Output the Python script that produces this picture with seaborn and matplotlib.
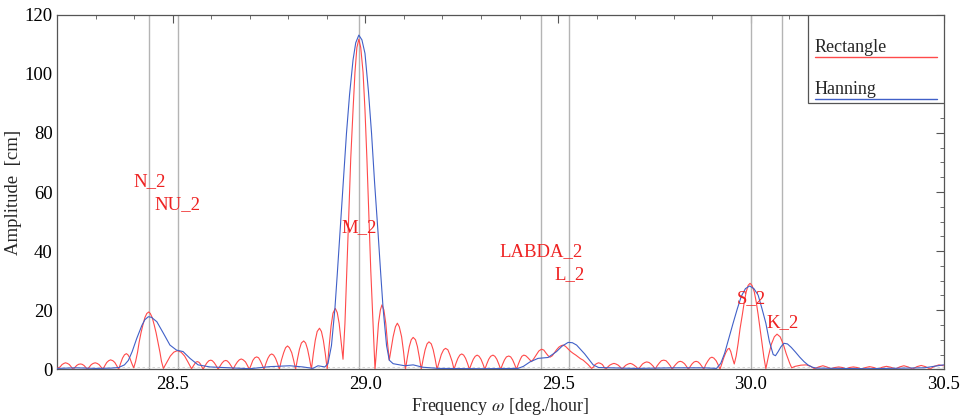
import numpy as np
import pandas as pd
import matplotlib.pyplot as plt
import seaborn as sns
from matplotlib.ticker import MultipleLocator, FormatStrFormatter

plt.switch_backend('Agg')

# tidal constituents (deg./hour) and the height of their labels
const_names = ['N_2', 'NU_2', 'M_2', 'LABDA_2', 'L_2', 'S_2', 'K_2']
const_freq = [28.4397, 28.5126, 28.9841, 29.4556, 29.5285, 30.0000, 30.0821]
label_y = [63.5, 55.7, 47.8, 39.8, 32.0, 23.8, 15.8]

rect_freq = [
    28.200, 28.208, 28.213, 28.218, 28.222, 28.227, 28.232, 28.237, 28.242,
    28.247, 28.251, 28.256, 28.261, 28.265, 28.270, 28.274, 28.279,
    28.284, 28.289, 28.294, 28.299, 28.304, 28.309, 28.314, 28.319,
    28.324, 28.329, 28.334, 28.339, 28.345, 28.350, 28.355, 28.360,
    28.365, 28.370, 28.375, 28.380, 28.384, 28.389, 28.394, 28.399,
    28.404, 28.409, 28.413, 28.418, 28.423, 28.428, 28.433, 28.438,
    28.442, 28.447, 28.452, 28.457, 28.462, 28.467, 28.471, 28.476,
    28.485, 28.494, 28.503, 28.512, 28.522, 28.531, 28.540, 28.549,
    28.553, 28.557, 28.560, 28.564, 28.568, 28.572, 28.575, 28.579,
    28.584, 28.589, 28.594, 28.599, 28.603, 28.608, 28.613, 28.618,
    28.623, 28.628, 28.633, 28.638, 28.642, 28.647, 28.652, 28.657,
    28.662, 28.668, 28.673, 28.678, 28.683, 28.689, 28.694, 28.699,
    28.704, 28.708, 28.713, 28.718, 28.723, 28.727, 28.732, 28.737,
    28.742, 28.747, 28.752, 28.757, 28.762, 28.767, 28.772, 28.777,
    28.782, 28.788, 28.793, 28.798, 28.803, 28.809, 28.814, 28.819,
    28.824, 28.829, 28.834, 28.840, 28.845, 28.850, 28.855, 28.860,
    28.865, 28.870, 28.875, 28.881, 28.886, 28.891, 28.896, 28.901,
    28.906, 28.911, 28.916, 28.922, 28.927, 28.932, 28.937, 28.942,
    28.947, 28.952, 28.957, 28.962, 28.968, 28.973, 28.978, 28.983,
    28.988, 28.994, 28.999, 29.004, 29.009, 29.014, 29.020, 29.025,
    29.030, 29.034, 29.039, 29.043, 29.048, 29.053, 29.057, 29.062,
    29.067, 29.072, 29.078, 29.083, 29.088, 29.094, 29.099, 29.104,
    29.109, 29.114, 29.119, 29.124, 29.130, 29.135, 29.140, 29.145,
    29.150, 29.155, 29.160, 29.165, 29.171, 29.176, 29.181, 29.186,
    29.192, 29.197, 29.203, 29.208, 29.214, 29.219, 29.225, 29.230,
    29.235, 29.240, 29.245, 29.250, 29.255, 29.260, 29.265, 29.270,
    29.275, 29.280, 29.285, 29.290, 29.295, 29.300, 29.305, 29.310,
    29.315, 29.320, 29.325, 29.331, 29.336, 29.341, 29.346, 29.351,
    29.356, 29.361, 29.366, 29.372, 29.377, 29.382, 29.387, 29.392,
    29.397, 29.402, 29.406, 29.411, 29.416, 29.421, 29.426, 29.431,
    29.437, 29.444, 29.450, 29.457, 29.463, 29.468, 29.474, 29.479,
    29.485, 29.490, 29.496, 29.502, 29.508, 29.513, 29.519, 29.525,
    29.532, 29.539, 29.546, 29.552, 29.558, 29.565, 29.571, 29.577, 29.582, 29.587,
    29.592, 29.596, 29.601, 29.605, 29.610, 29.615, 29.619, 29.624,
    29.629, 29.634, 29.640, 29.645, 29.650, 29.656, 29.661, 29.666,
    29.671, 29.676, 29.682, 29.687, 29.692, 29.697, 29.703, 29.708,
    29.714, 29.719, 29.725, 29.730, 29.736, 29.741, 29.747, 29.752,
    29.757, 29.763, 29.768, 29.774, 29.780, 29.785, 29.791, 29.796,
    29.801, 29.807, 29.812, 29.817, 29.822, 29.828, 29.833, 29.838,
    29.843, 29.848, 29.853, 29.858, 29.863, 29.868, 29.873, 29.878,
    29.883, 29.889, 29.894, 29.899, 29.904, 29.910, 29.915, 29.920,
    29.925, 29.930, 29.935, 29.940, 29.944, 29.948, 29.952, 29.957,
    29.962, 29.967, 29.972, 29.978, 29.983, 29.988, 29.993, 29.998,
    30.003, 30.009, 30.014, 30.019, 30.024, 30.029, 30.034, 30.039,
    30.046, 30.053, 30.061, 30.068, 30.076, 30.084, 30.092, 30.101, 30.106,
    30.115, 30.130, 30.144, 30.155, 30.165, 30.176, 30.187, 30.197, 30.208,
    30.218, 30.228, 30.238, 30.247, 30.256, 30.266, 30.276, 30.287,
    30.298, 30.308, 30.319, 30.330, 30.341, 30.352, 30.363, 30.375,
    30.386, 30.397, 30.408, 30.420, 30.431, 30.442, 30.453, 30.465,
    30.476, 30.488, 30.500]
rect_amp = [
    0.3, 0.8, 1.6, 2.0, 2.2, 2.0, 1.6, 0.8, 0.0,
    0.7, 1.3, 1.7, 1.8, 1.7, 1.3, 0.7, 0.0,
    0.8, 1.6, 2.0, 2.2, 2.0, 1.6, 0.8, 0.0,
    1.2, 2.3, 2.9, 3.2, 2.9, 2.3, 1.2, 0.0,
    2.0, 3.8, 4.9, 5.3, 4.9, 3.8, 2.0, 0.5,
    2.7, 5.8, 9.1, 12.4, 15.1, 17.5, 18.9, 19.4,
    18.9, 17.5, 15.1, 12.4, 9.1, 5.8, 2.7, 0.3,
    2.4, 4.5, 5.8, 6.3, 5.8, 4.5, 2.4, 0.2,
    1.0, 1.8, 2.4, 2.6, 2.4, 1.8, 1.0, 0.0,
    1.2, 2.2, 2.9, 3.1, 2.9, 2.2, 1.2, 0.0,
    1.1, 2.1, 2.8, 3.0, 2.8, 2.1, 1.1, 0.0,
    1.3, 2.5, 3.2, 3.5, 3.2, 2.5, 1.3, 0.0,
    1.6, 3.0, 3.9, 4.2, 3.9, 3.0, 1.6, 0.0,
    2.0, 3.7, 4.8, 5.2, 4.8, 3.7, 2.0, 0.0,
    3.0, 5.6, 7.3, 7.9, 7.3, 5.6, 3.0, 0.0,
    3.6, 6.8, 8.9, 9.6, 8.9, 6.8, 3.6, 0.0,
    5.3, 9.8, 12.8, 13.9, 12.8, 9.8, 5.3, 0.0,
    7.8, 14.6, 19.0, 20.6, 19.2, 15.5, 9.5, 3.4,
    15.5, 33.5, 52.5, 71.2, 87.7, 100.5, 108.9, 111.7,
    108.9, 100.5, 87.7, 71.2, 52.5, 33.5, 15.5, 0.0,
    8.3, 15.5, 20.1, 21.8, 20.1, 15.5, 9.5, 3.1,
    7.0, 11.0, 14.4, 15.6, 14.4, 11.0, 6.0, 0.0,
    4.1, 7.7, 10.0, 10.8, 10.0, 7.7, 4.1, 0.0,
    3.5, 6.6, 8.6, 9.3, 8.6, 6.6, 3.5, 0.0,
    2.7, 5.0, 6.6, 7.1, 6.6, 5.0, 2.7, 0.0,
    2.0, 3.7, 4.8, 5.2, 4.8, 3.7, 2.0, 0.0,
    1.8, 3.4, 4.4, 4.8, 4.4, 3.4, 1.8, 0.0,
    1.8, 3.4, 4.4, 4.8, 4.4, 3.4, 1.8, 0.0,
    1.7, 3.2, 4.2, 4.5, 4.2, 3.2, 1.7, 0.0,
    1.8, 3.4, 4.4, 4.8, 4.6, 4.0, 3.3, 2.6,
    3.6, 5.0, 6.2, 6.8, 6.5, 5.6, 4.6, 4.1,
    4.6, 5.5, 6.6, 7.5, 8.0, 8.2, 7.8, 7.0,
    6.1, 5.4, 4.8, 4.2, 3.6, 3.1, 2.4, 1.7, 1.0, 0.3,
    0.8, 1.6, 2.0, 2.2, 2.0, 1.6, 0.8, 0.0,
    0.8, 1.4, 1.8, 2.0, 1.8, 1.4, 0.8, 0.0,
    0.8, 1.4, 1.8, 2.0, 1.8, 1.4, 0.8, 0.0,
    1.0, 1.8, 2.3, 2.5, 2.3, 1.8, 1.0, 0.0,
    1.2, 2.2, 2.9, 3.1, 2.9, 2.2, 1.2, 0.0,
    1.0, 1.9, 2.5, 2.7, 2.5, 1.9, 1.0, 0.0,
    1.0, 1.9, 2.5, 2.7, 2.5, 1.9, 1.0, 0.0,
    1.6, 2.9, 3.8, 4.1, 3.8, 2.9, 1.6, 0.0,
    2.0, 4.0, 5.6, 6.8, 7.1, 6.0, 4.0, 1.8,
    4.5, 8.7, 13.7, 18.5, 22.8, 26.2, 28.4, 29.1,
    28.4, 26.2, 22.8, 18.5, 13.7, 8.7, 4.0, 0.2,
    4.6, 8.4, 11.0, 11.9, 11.0, 8.6, 5.2, 2.0, 0.5,
    1.0, 1.4, 1.5, 1.0, 0.2, 0.8, 1.2, 0.8, 0.2,
    0.6, 0.8, 0.6, 0.1, 0.6, 0.8, 0.6, 0.1,
    0.6, 0.9, 0.6, 0.1, 0.7, 1.0, 0.7, 0.1,
    0.8, 1.2, 0.8, 0.1, 0.9, 1.3, 0.9, 0.1,
    1.0, 1.5, 1.2]

# hanning window spectrum
hann_freq = [
    28.200, 28.250, 28.300, 28.340, 28.360, 28.375, 28.385, 28.395, 28.407, 28.420,
    28.428, 28.437, 28.445, 28.459, 28.476, 28.493, 28.510, 28.527, 28.545, 28.566,
    28.597, 28.649, 28.700, 28.752, 28.804, 28.838, 28.864, 28.877, 28.895, 28.903,
    28.912, 28.921, 28.927, 28.934, 28.942, 28.951, 28.959, 28.968, 28.975, 28.983,
    28.991, 28.999, 29.008, 29.016, 29.024, 29.033, 29.040, 29.046, 29.055, 29.062,
    29.072, 29.102, 29.124, 29.149, 29.190, 29.300, 29.396, 29.410, 29.427, 29.448,
    29.474, 29.496, 29.510, 29.526, 29.537, 29.548, 29.569, 29.591, 29.605, 29.700,
    29.800, 29.880, 29.911, 29.922, 29.932, 29.943, 29.954, 29.965, 29.975, 29.986,
    29.997, 30.008, 30.019, 30.029, 30.039, 30.048, 30.058, 30.064, 30.071, 30.078,
    30.086, 30.095, 30.105, 30.116, 30.127, 30.138, 30.148, 30.160, 30.170, 30.300,
    30.450, 30.500]
hann_amp = [
    0.3, 0.5, 0.3, 0.4, 0.6, 1.5, 3.0, 6.0, 10.5, 14.8,
    16.8, 17.8, 17.6, 16.1, 12.2, 8.2, 6.5, 6.0, 3.7, 1.5,
    0.8, 0.5, 0.2, 0.9, 1.2, 0.8, 0.3, 1.2, 0.8, 2.0,
    8.0, 20.6, 32.0, 46.0, 62.0, 79.9, 93.0, 104.7, 110.5, 113.1,
    111.5, 106.9, 94.0, 79.9, 63.0, 46.0, 32.0, 20.6, 8.0, 3.1,
    1.9, 1.2, 1.5, 0.7, 0.3, 0.2, 0.3, 1.0, 2.5, 3.7,
    4.0, 6.0, 7.8, 9.1, 9.0, 8.2, 5.2, 1.5, 0.6, 0.3,
    0.5, 0.5, 0.3, 2.0, 5.4, 10.5, 15.6, 20.5, 24.6, 27.3,
    28.2, 27.3, 25.1, 20.5, 15.6, 9.5, 5.0, 4.6, 6.0, 7.6,
    8.8, 8.6, 7.4, 5.8, 4.1, 2.6, 1.5, 0.7, 0.4, 0.2,
    0.5, 1.5]

RED = '#ff4a4a'
BLUE = '#4060c8'
TXT_RED = '#ee2222'
FRAME = '#555555'

sns.set_style('white')
plt.rcParams['font.family'] = ['Liberation Serif', 'DejaVu Serif']
plt.rcParams['mathtext.fontset'] = 'stix'

rect_df = pd.DataFrame({'freq': rect_freq, 'amp': rect_amp})
hann_df = pd.DataFrame({'freq': hann_freq, 'amp': hann_amp})

fig = plt.figure(figsize=(9.63, 4.18), dpi=100)
ax = fig.add_axes([0.0592, 0.1165, 0.9206, 0.8483])

for f in const_freq:
    ax.axvline(f, color='#b4b4b4', lw=1.0, zorder=1)
ax.axhline(0.7, color='#d0d0d0', lw=0.6, ls=(0, (3, 3)), zorder=1)

sns.lineplot(data=rect_df, x='freq', y='amp', ax=ax, color=RED, lw=0.8,
             estimator=None, sort=False, zorder=3)
sns.lineplot(data=hann_df, x='freq', y='amp', ax=ax, color=BLUE, lw=0.8,
             estimator=None, sort=False, zorder=4)

for name, f, yl in zip(const_names, const_freq, label_y):
    ax.text(f, yl, name, color=TXT_RED, fontsize=13.5, ha='center', va='center', zorder=5)

ax.set_xlim(28.2, 30.5)
ax.set_ylim(0, 120)
ax.xaxis.set_major_locator(MultipleLocator(0.5))
ax.xaxis.set_minor_locator(MultipleLocator(0.1))
ax.xaxis.set_major_formatter(FormatStrFormatter('%.1f'))
ax.yaxis.set_major_locator(MultipleLocator(20))
ax.yaxis.set_minor_locator(MultipleLocator(5))
ax.tick_params(which='both', direction='in', top=True, right=True, color=FRAME,
               labelsize=13.5, labelcolor='black')
ax.tick_params(which='major', length=6, width=0.8)
ax.tick_params(which='minor', length=3, width=0.6)
ax.tick_params(axis='x', pad=5)
ax.tick_params(axis='y', pad=3)
for s in ax.spines.values():
    s.set_color(FRAME)
    s.set_linewidth(0.9)

ax.set_xlabel(r'Frequency $\omega$ [deg./hour]', fontsize=13, labelpad=2)
ax.set_ylabel('Amplitude  [cm]', fontsize=13.5, labelpad=2)

# legend box, drawn in axes fraction
ax.add_patch(plt.Rectangle((0.847, 0.751), 0.153, 0.249, transform=ax.transAxes,
                           facecolor='white', edgecolor=FRAME, lw=0.9, zorder=6))
ax.text(0.855, 0.896, 'Rectangle', transform=ax.transAxes, fontsize=13,
        ha='left', va='baseline', zorder=7)
ax.plot([0.855, 0.993], [0.881, 0.881], transform=ax.transAxes, color=RED, lw=1.0, zorder=7)
ax.text(0.855, 0.776, 'Hanning', transform=ax.transAxes, fontsize=13,
        ha='left', va='baseline', zorder=7)
ax.plot([0.855, 0.993], [0.762, 0.762], transform=ax.transAxes, color=BLUE, lw=1.0, zorder=7)

plt.savefig('out.png', dpi=100)
